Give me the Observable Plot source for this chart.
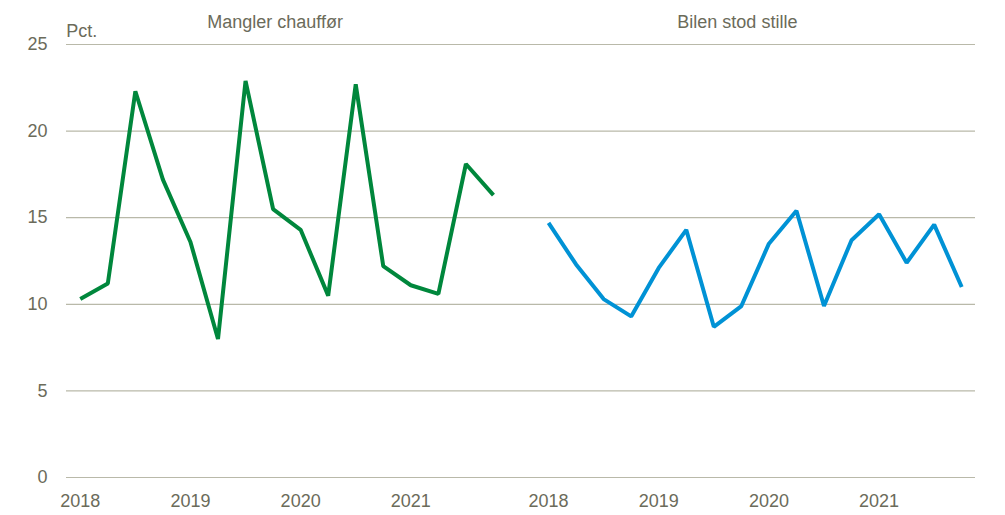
<!DOCTYPE html>
<html><head><meta charset="utf-8">
<script src="https://cdn.jsdelivr.net/npm/d3@7"></script>
<script src="https://cdn.jsdelivr.net/npm/@observablehq/plot@0.6"></script>
<style>
html,body{margin:0;padding:0;background:#fff;}
svg{font-family:"Liberation Sans",Arial,sans-serif;}
</style>
</head><body>
<div id="chart"></div>
<script>
const years = ["2018","2019","2020","2021"];
const quarters = ["K1","K2","K3","K4"];
const seriesNames = ["Mangler chauffør","Bilen stod stille"];
const manglerChauffoer = [10.3,11.2,22.3,17.2,13.6,8.0,22.9,15.5,14.3,10.5,22.7,12.2,11.1,10.6,18.1,16.3];
const bilenStodStille = [14.7,12.3,10.3,9.3,12.1,14.3,8.7,9.9,13.5,15.4,9.9,13.7,15.2,12.4,14.6,11.0];
const yTicks = [0,5,10,15,20,25];

const keys = (p) => years.flatMap(y => quarters.map(q => `${p}|${y}|${q}`));
const leftKeys = keys("A"), rightKeys = keys("B");
const domain = [...leftKeys, "gap", ...rightKeys];
const data = [
  ...leftKeys.map((k,i) => ({x:k, y:manglerChauffoer[i], s:seriesNames[0]})),
  ...rightKeys.map((k,i) => ({x:k, y:bilenStodStille[i], s:seriesNames[1]}))
];
const q1Ticks = domain.filter(k => k.endsWith("|K1"));
const textColor = "#6b6b5a";

const chart = Plot.plot({
  width: 1005, height: 515,
  marginTop: 44, marginBottom: 38, marginLeft: 66, marginRight: 30,
  style: {fontFamily: '"Liberation Sans", Arial, sans-serif', fontSize: "18px", color: textColor, background: "#fff"},
  x: {type: "point", domain, padding: 0.5, round: false, ticks: q1Ticks, tickFormat: k => k.split("|")[1], tickSize: 0, tickPadding: 17, label: null},
  y: {domain: [0,25], ticks: yTicks, tickSize: 0, tickPadding: 19, label: null},
  color: {domain: seriesNames, range: ["#00873c","#0092d5"]},
  marks: [
    Plot.ruleY(yTicks, {stroke: "#b9b9a9", strokeWidth: 1.2}),
    Plot.line(data, {x: "x", y: "y", z: "s", stroke: "s", strokeWidth: 4, strokeLinejoin: "miter", strokeLinecap: "butt"}),
    Plot.text([seriesNames[0]], {x: [leftKeys[7]], y: [25], text: d => d, dx: 2, dy: -22, fill: textColor, fontSize: 18}),
    Plot.text([seriesNames[1]], {x: [rightKeys[7]], y: [25], text: d => d, dx: -4, dy: -22, fill: textColor, fontSize: 18}),
    Plot.text(["Pct."], {x: [leftKeys[0]], y: [25], text: d => d, dx: -14, dy: -13, textAnchor: "start", fill: textColor, fontSize: 18})
  ]
});
document.getElementById("chart").appendChild(chart);
</script>
</body></html>
